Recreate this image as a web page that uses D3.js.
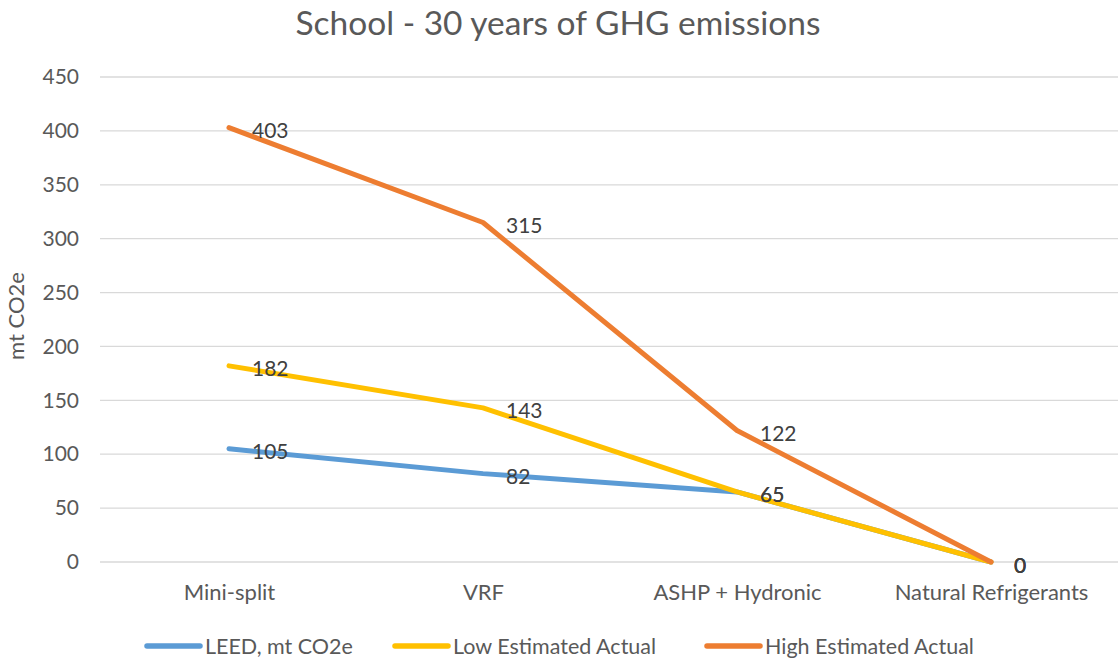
<!DOCTYPE html>
<html>
<head>
<meta charset="utf-8">
<script src="https://cdn.jsdelivr.net/npm/d3@7"></script>
<style>
  body { margin: 0; background: #fff; }
  svg text { font-family: Lato, "Open Sans", sans-serif; }
</style>
</head>
<body>
<div id="draw"></div>
<script>
// data
var categories = ['Mini-split', 'VRF', 'ASHP + Hydronic', 'Natural Refrigerants'];
var seriesNames = ['LEED, mt CO2e', 'Low Estimated Actual', 'High Estimated Actual'];
var leed = [105, 82, 65, 0];
var lowActual = [182, 143, 65, 0];
var highActual = [403, 315, 122, 0];
var yTicks = [0, 50, 100, 150, 200, 250, 300, 350, 400, 450];
var colors = ['#5b9bd5', '#ffc000', '#ed7d31'];

var W = 1118, H = 660;
var mLeft = 102, mRight = 1118, mTop = 77, mBottom = 562;

var svg = d3.select('#draw').append('svg').attr('width', W).attr('height', H);

var x = d3.scalePoint().domain(categories).range([mLeft, mRight]).padding(0.5);
var y = d3.scaleLinear().domain([0, 450]).range([mBottom, mTop]);

// title
svg.append('text').attr('x', 558).attr('y', 35).attr('text-anchor', 'middle')
  .attr('font-size', 33.5).attr('fill', '#595959').text('School - 30 years of GHG emissions');

// gridlines
svg.append('g').selectAll('line').data(yTicks).enter().append('line')
  .attr('x1', 100).attr('x2', mRight)
  .attr('y1', function(d){ return y(d); }).attr('y2', function(d){ return y(d); })
  .attr('stroke', '#d9d9d9').attr('stroke-width', 1.3);

// y axis labels
var yAxis = d3.axisLeft(y).tickValues(yTicks).tickSize(0).tickPadding(0);
var yg = svg.append('g').attr('transform', 'translate(79,0)').call(yAxis);
yg.select('.domain').remove();
yg.selectAll('text').attr('font-size', 21).attr('fill', '#595959')
  .style('font-family', 'Lato, "Open Sans", sans-serif');

// x axis labels
var xAxis = d3.axisBottom(x).tickSize(0).tickPadding(0);
var xg = svg.append('g').attr('transform', 'translate(0,' + (mBottom + 22) + ')').call(xAxis);
xg.select('.domain').remove();
xg.selectAll('text').attr('font-size', 22).attr('fill', '#595959')
  .style('font-family', 'Lato, "Open Sans", sans-serif');

// y axis title
svg.append('text').attr('transform', 'translate(24,316) rotate(-90)')
  .attr('text-anchor', 'middle').attr('font-size', 22).attr('fill', '#595959').text('mt CO2e');

var series = [leed, lowActual, highActual];
var line = d3.line().x(function(d, i){ return x(categories[i]); }).y(function(d){ return y(d); });

series.forEach(function(vals, s){
  svg.append('path').datum(vals).attr('d', line)
    .attr('fill', 'none').attr('stroke', colors[s]).attr('stroke-width', 5)
    .attr('stroke-linecap', 'round').attr('stroke-linejoin', 'round');
});

// data labels
series.forEach(function(vals, s){
  svg.append('g').selectAll('text').data(vals).enter().append('text')
    .attr('x', function(d, i){ return x(categories[i]) + 23; })
    .attr('y', function(d){ return y(d) + 2; })
    .attr('dominant-baseline', 'central')
    .attr('font-size', 21).attr('fill', '#404040')
    .text(function(d){ return d; });
});

// legend
var legendX = [145, 393, 705];
var lg = svg.append('g').selectAll('g').data(seriesNames).enter().append('g')
  .attr('transform', function(d, i){ return 'translate(' + legendX[i] + ',646)'; });
lg.append('line').attr('x1', 2).attr('x2', 55).attr('y1', 0).attr('y2', 0)
  .attr('stroke', function(d, i){ return colors[i]; }).attr('stroke-width', 5.5)
  .attr('stroke-linecap', 'round');
lg.append('text').attr('x', 60).attr('y', 0)
  .attr('dominant-baseline', 'central')
  .attr('font-size', 21.5).attr('fill', '#595959').text(function(d){ return d; });
</script>
</body>
</html>
